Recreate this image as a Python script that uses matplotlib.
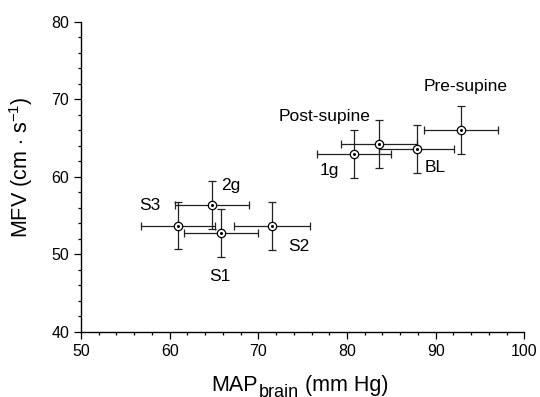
import matplotlib
matplotlib.use("Agg")
from matplotlib import pyplot as plt
from matplotlib.ticker import MultipleLocator

plt.rcParams['font.family'] = ['Liberation Sans', 'DejaVu Sans']
plt.rcParams['mathtext.fontset'] = 'custom'
plt.rcParams['mathtext.rm'] = 'Liberation Sans'
plt.rcParams['mathtext.it'] = 'Liberation Sans'

# 各条件的数据 (MAP_brain, MFV) 及误差
labels = ["Pre-supine", "Post-supine", "1g", "BL", "2g", "S3", "S1", "S2"]
map_brain = [92.85, 83.6, 80.8, 87.85, 64.75, 60.95, 65.8, 71.55]
mfv = [66.0, 64.3, 62.95, 63.6, 56.35, 53.7, 52.7, 53.7]
map_err = [4.2, 4.25, 4.2, 4.25, 4.2, 4.2, 4.2, 4.25]
mfv_err = [3.1, 3.1, 3.1, 3.1, 3.1, 3.05, 3.1, 3.1]

# 标签文字的位置
label_x = [93.4, 77.45, 77.95, 89.9, 66.9, 57.8, 65.7, 74.6]
label_y = [71.6, 67.8, 60.8, 61.2, 58.85, 56.3, 47.2, 51.0]

fig = plt.figure(figsize=(5.4, 3.97), dpi=100)
ax = fig.add_axes([0.15, 0.164, 0.821, 0.781])

ax.errorbar(map_brain, mfv, xerr=map_err, yerr=mfv_err, fmt='none',
            ecolor='#222222', elinewidth=0.9, capsize=3, capthick=0.9, zorder=2)
ax.plot(map_brain, mfv, 'o', ms=6, mfc='white', mec='black', mew=0.9, zorder=3)
ax.plot(map_brain, mfv, 'o', ms=1.2, mfc='black', mec='black', zorder=4)

for t, lx, ly in zip(labels, label_x, label_y):
    ax.text(lx, ly, t, ha='center', va='center', fontsize=12.5)

ax.set_xlim(50, 100)
ax.set_ylim(40, 80)
ax.xaxis.set_major_locator(MultipleLocator(10))
ax.xaxis.set_minor_locator(MultipleLocator(2))
ax.yaxis.set_major_locator(MultipleLocator(10))
ax.yaxis.set_minor_locator(MultipleLocator(2))
ax.tick_params(which='major', direction='out', length=5, width=0.9, labelsize=11.5)
ax.tick_params(which='minor', direction='out', length=2.5, width=0.9)

ax.spines['top'].set_visible(False)
ax.spines['right'].set_visible(False)
ax.spines['left'].set_linewidth(1.0)
ax.spines['bottom'].set_linewidth(1.0)

ax.set_ylabel(r"MFV (cm $\cdot$ s$^{\mathrm{-1}}$)", fontsize=15.5)
ax.yaxis.set_label_coords(-0.104, 0.53)

# x轴标题: 下标比较大, 分段写
renderer = fig.canvas.get_renderer()
base_y = 1 - 391 / 397
t1 = fig.text(211.5 / 540, base_y, "MAP", fontsize=15.5, va='baseline')
x1 = t1.get_window_extent(renderer).x1 / 540
t2 = fig.text(x1 + 0.001, base_y - 6 / 397, "brain", fontsize=13, va='baseline')
x2 = t2.get_window_extent(renderer).x1 / 540
fig.text(x2 + 0.012, base_y, "(mm Hg)", fontsize=15.5, va='baseline')

fig.savefig("out.png", dpi=100)
